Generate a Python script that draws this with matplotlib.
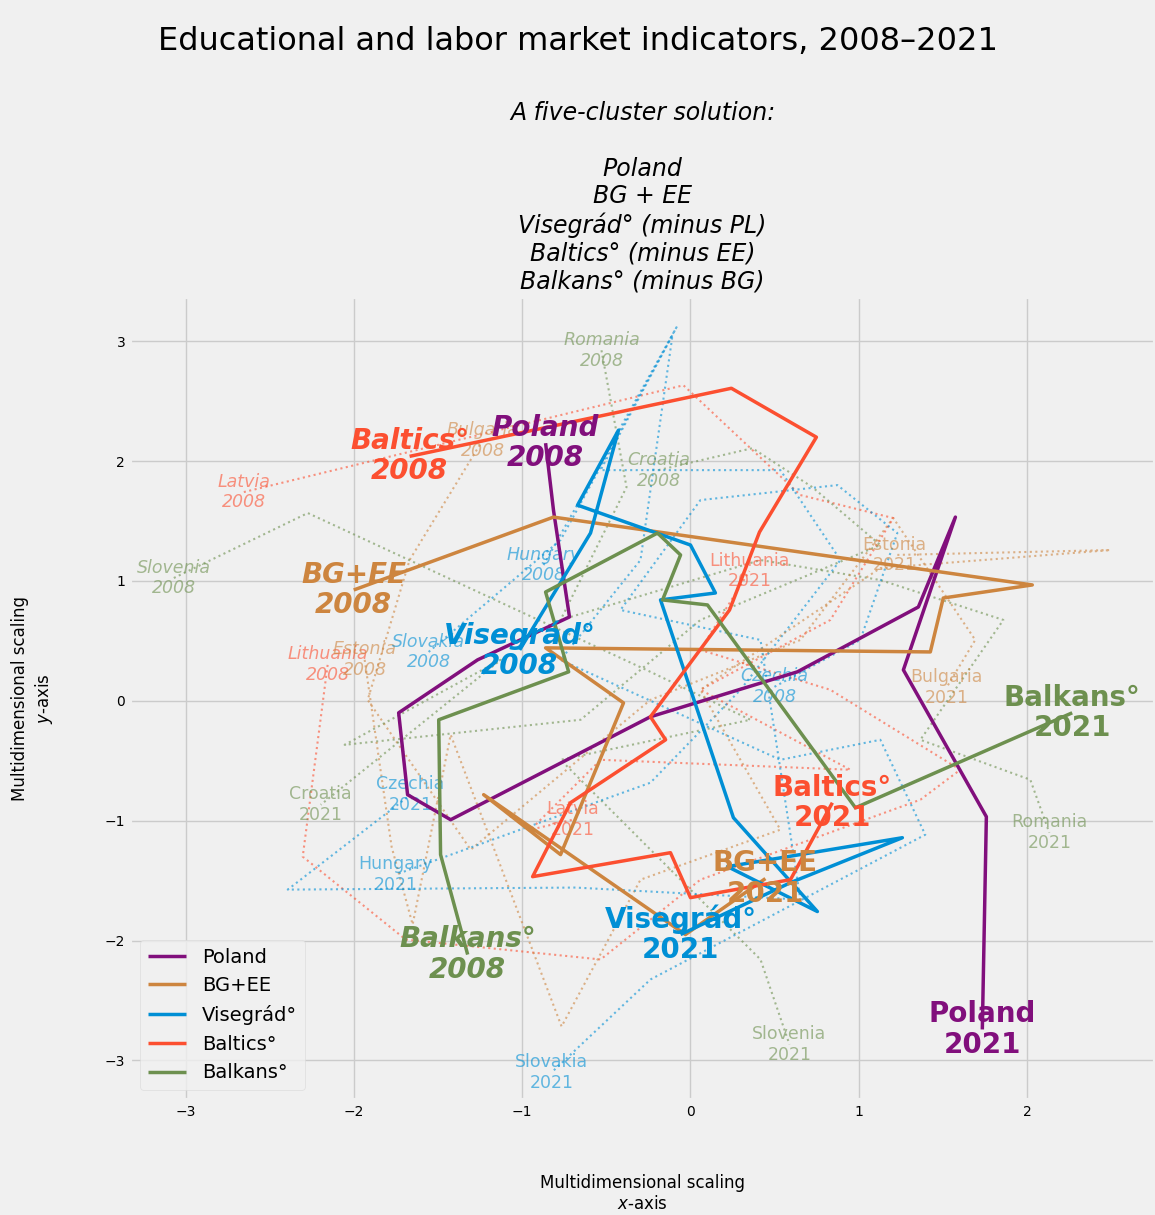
import matplotlib.pyplot as plt
import numpy as np

plt.style.use("fivethirtyeight")
plt.rcParams["font.family"] = ["DejaVu Sans"]

# cluster trajectories 2008 -> 2021 (MDS coordinates)
clusters = ["Poland", "BG+EE", "Visegrád°", "Baltics°", "Balkans°"]
colors = {"Poland": "#810f7c", "BG+EE": "#cd853f", "Visegrád°": "#008fd5",
          "Baltics°": "#fc4f30", "Balkans°": "#6d904f"}

poland_x = [-0.861, -0.814, -0.719, -1.265, -1.734, -1.681, -1.425, -0.238, 0.635, 1.354, 1.574, 1.265, 1.758, 1.734]
poland_y = [2.15, 1.59, 0.70, 0.342, -0.10, -0.783, -0.992, -0.133, 0.242, 0.783, 1.533, 0.258, -0.967, -2.742]

bgee_x = [-2.001, -0.814, 2.031, 1.502, 1.425, -0.861, -0.398, -0.772, -1.229, -0.030, 0.445]
bgee_y = [0.925, 1.533, 0.967, 0.858, 0.408, 0.442, -0.017, -1.283, -0.783, -1.95, -1.483]

visegrad_x = [-1.015, -0.594, -0.428, -0.671, 0.0, 0.148, -0.178, 0.255, 0.754, 0.220, 1.259, 0.594, -0.059]
visegrad_y = [0.425, 1.40, 2.258, 1.633, 1.30, 0.90, 0.842, -0.975, -1.758, -1.383, -1.142, -1.517, -1.95]

baltics_x = [-1.669, 0.243, 0.748, 0.410, 0.232, -0.238, -0.148, -0.713, -0.938, -0.119, 0.0, 0.594, 0.843]
baltics_y = [2.04, 2.608, 2.2, 1.408, 0.758, -0.133, -0.325, -0.85, -1.467, -1.267, -1.642, -1.492, -0.85]

balkans_x = [-1.324, -1.485, -1.496, -0.724, -0.861, -0.196, -0.059, -0.166, 0.101, 0.980, 2.268]
balkans_y = [-2.117, -1.283, -0.158, 0.242, 0.908, 1.40, 1.217, 0.842, 0.80, -0.892, -0.10]

cluster_xy = {"Poland": (poland_x, poland_y), "BG+EE": (bgee_x, bgee_y),
              "Visegrád°": (visegrad_x, visegrad_y), "Baltics°": (baltics_x, baltics_y),
              "Balkans°": (balkans_x, balkans_y)}

# single countries (dotted)
countries = ["Romania", "Bulgaria", "Latvia", "Slovenia", "Croatia",
             "Hungary", "Lithuania", "Estonia", "Slovakia", "Czechia"]
country_cluster = {"Romania": "Balkans°", "Bulgaria": "BG+EE", "Latvia": "Baltics°",
                   "Slovenia": "Balkans°", "Croatia": "Balkans°", "Hungary": "Visegrád°",
                   "Lithuania": "Baltics°", "Estonia": "BG+EE", "Slovakia": "Visegrád°",
                   "Czechia": "Visegrád°"}

romania_x = [-0.529, -0.380, -0.772, 0.416, 1.128, 1.859, 1.366, 2.019, 2.132]
romania_y = [2.925, 1.783, 0.675, 1.175, 1.008, 0.675, -0.325, -0.658, -1.10]
bulgaria_x = [-1.235, -1.669, -1.918, -1.306, -0.238, 0.653, 1.205, 1.692, 1.520]
bulgaria_y = [2.175, 1.175, 0.008, -1.242, 0.008, 0.508, 1.525, 0.508, 0.108]
latvia_x = [-2.654, -0.042, 0.653, 1.205, 0.831, 0.059, 0.950, -0.534, -0.950, -0.701]
latvia_y = [1.742, 2.633, 1.717, 1.525, 0.675, 0.092, -0.575, -0.492, -1.075, -0.992]
slovenia_x = [-3.070, -2.274, -0.238, 0.356, -0.772, 0.059, 0.416, 0.588]
slovenia_y = [1.025, 1.567, 0.242, -0.158, -0.492, -1.658, -2.158, -2.867]
croatia_x = [-0.190, 0.368, 0.724, 1.128, 0.059, -0.653, -2.055, -1.128, -2.197]
croatia_y = [1.925, 2.108, 1.783, 1.30, 0.675, -0.158, -0.367, 0.342, -0.867]
hungary_x = [-0.873, -0.083, -0.534, 0.534, 0.891, 0.297, -0.238, -1.752]
hungary_y = [1.133, 3.117, 1.925, 1.925, 1.175, 0.092, -0.683, -1.450]
lithuania_x = [-2.156, -2.304, -1.692, -0.534, 0.059, 1.366, 1.603, 0.831, 0.059, 0.350]
lithuania_y = [0.30, -1.30, -1.992, -2.158, -1.492, -0.825, -0.575, 0.092, 0.425, 1.083]
estonia_x = [-1.936, -1.776, -1.651, -1.425, -0.766, -0.297, 0.534, 0.059, 1.128, 2.494, 1.211]
estonia_y = [0.342, -1.217, -1.867, -0.283, -2.717, -1.492, -1.075, 0.092, 1.108, 1.258, 1.217]
slovakia_x = [-1.556, -0.772, -0.107, -0.297, -0.772, 0.534, 1.128, 1.395, -0.238, -0.825]
slovakia_y = [0.408, 1.342, 3.05, 1.175, 0.342, -0.492, -0.325, -1.117, -2.325, -3.10]
czechia_x = [0.499, 1.009, 1.229, 0.873, 0.059, -0.416, 0.416, 0.653, -0.683, -2.393, -1.663]
czechia_y = [0.117, 0.508, 1.40, 1.80, 1.675, 0.758, 0.508, -1.658, -1.558, -1.575, -0.783]

country_xy = {"Romania": (romania_x, romania_y), "Bulgaria": (bulgaria_x, bulgaria_y),
              "Latvia": (latvia_x, latvia_y), "Slovenia": (slovenia_x, slovenia_y),
              "Croatia": (croatia_x, croatia_y), "Hungary": (hungary_x, hungary_y),
              "Lithuania": (lithuania_x, lithuania_y), "Estonia": (estonia_x, estonia_y),
              "Slovakia": (slovakia_x, slovakia_y), "Czechia": (czechia_x, czechia_y)}

fig = plt.figure(figsize=(11.55, 12.15), dpi=100)
fig.patch.set_facecolor("#f0f0f0")
ax = fig.add_axes([0.1126, 0.0947, 0.8874, 0.6609])
ax.set_facecolor("#f0f0f0")

# dotted country paths + labels
for country in countries:
    xs, ys = country_xy[country]
    c = colors[country_cluster[country]]
    ax.plot(xs, ys, linestyle=":", linewidth=1.5, color=c, alpha=0.6, zorder=2)
    ax.text(xs[0], ys[0], country + "\n2008", ha="center", va="center",
            fontsize=12.5, style="italic", color=c, alpha=0.6, zorder=3)
    ax.text(xs[-1], ys[-1], country + "\n2021", ha="center", va="center",
            fontsize=12.5, color=c, alpha=0.6, zorder=3)

# cluster paths + labels
for name in clusters:
    xs, ys = cluster_xy[name]
    c = colors[name]
    ax.plot(xs, ys, linewidth=2.5, color=c, label=name, zorder=4)
    ax.text(xs[0], ys[0], name + "\n2008", ha="center", va="center",
            fontsize=20, style="italic", weight="bold", color=c, zorder=5,
            linespacing=1.1)
    ax.text(xs[-1], ys[-1], name + "\n2021", ha="center", va="center",
            fontsize=20, weight="bold", color=c, zorder=5, linespacing=1.1)

ax.set_xlim(-3.33, 2.76)
ax.set_ylim(-3.33, 3.37)
ax.set_xticks(np.arange(-3, 3))
ax.set_yticks(np.arange(-3, 4))
ax.tick_params(labelsize=10)
ax.grid(color="#cbcbcb", linewidth=1)

ax.set_xlabel("Multidimensional scaling\n$x$-axis", fontsize=12, labelpad=40)
ax.set_ylabel("Multidimensional scaling\n$y$-axis", fontsize=12, labelpad=36)

ax.set_title("A five-cluster solution:\n\nPoland\nBG + EE\nVisegrád° (minus PL)\n"
             "Baltics° (minus EE)\nBalkans° (minus BG)",
             fontsize=17, style="italic", pad=6, linespacing=1.2)
fig.suptitle("Educational and labor market indicators, 2008–2021",
             fontsize=23, y=0.979)

leg = ax.legend(loc="lower left", fontsize=14, frameon=True, handlelength=2)
leg.get_frame().set_facecolor("#f0f0f0")
leg.get_frame().set_edgecolor("#d8d8d8")

fig.savefig("out.png", dpi=100, facecolor=fig.get_facecolor())
